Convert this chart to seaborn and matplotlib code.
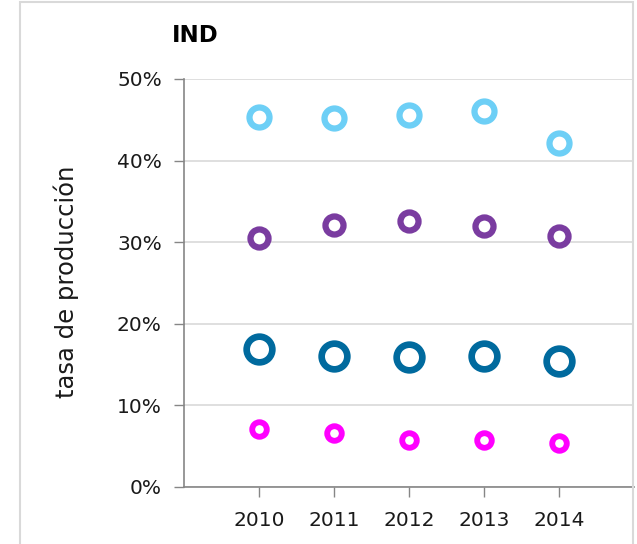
import matplotlib
matplotlib.use("Agg")
import matplotlib.pyplot as plt
import seaborn as sns
import pandas as pd
from matplotlib.patches import Rectangle
from matplotlib.ticker import FuncFormatter

years = [2010, 2011, 2012, 2013, 2014]
serie_celeste = [45.4, 45.2, 45.6, 46.1, 42.2]
serie_morada = [30.5, 32.1, 32.6, 32.0, 30.7]
serie_azul = [16.9, 16.1, 15.9, 16.0, 15.4]
serie_magenta = [7.1, 6.6, 5.8, 5.8, 5.4]
ytick_vals = [0, 10, 20, 30, 40, 50]

sns.set_theme(style="white")
plt.rcParams['font.family'] = ['DejaVu Sans']

fig = plt.figure(figsize=(6.37, 5.44), dpi=100)
ax = fig.add_axes([184/637, 57/544, 450/637, 408/544])

series = [
    (serie_celeste, "#6DCFF6", 14.4, 4.5),
    (serie_morada, "#7A3CA0", 13.0, 4.5),
    (serie_azul, "#006A9E", 18.5, 4.8),
    (serie_magenta, "#FF00FF", 10.5, 4.2),
]
for vals, col, ms, lw in series:
    df = pd.DataFrame({"year": years, "val": vals})
    sns.scatterplot(data=df, x="year", y="val", ax=ax, s=ms**2, marker="o",
                    facecolor="white", edgecolor=col, linewidth=lw, zorder=3, legend=False)

ax.set_xlim(2009, 2015)
ax.set_ylim(0, 50)
ax.set_xticks(years)
ax.set_xticklabels([str(y) for y in years], fontsize=14.5, color="#1a1a1a")
ax.set_yticks(ytick_vals)
ax.yaxis.set_major_formatter(FuncFormatter(lambda v, p: f"{int(v)}%"))
ax.tick_params(axis="y", labelsize=14.5, colors="#1a1a1a", length=7, width=1, color="#868686", pad=9, direction="out", left=True)
ax.tick_params(axis="x", length=7, width=1, color="#868686", pad=10, direction="out", bottom=True)
ax.yaxis.grid(True, color="#D9D9D9", linewidth=1.2)
ax.xaxis.grid(False)
ax.set_axisbelow(True)
for s in ["top", "right"]:
    ax.spines[s].set_visible(False)
for s in ["left", "bottom"]:
    ax.spines[s].set_color("#868686")
    ax.spines[s].set_linewidth(1.2)
ax.set_xlabel("")
ax.set_ylabel("")
fig.text(66/637, 1 - 282/544, "tasa de producción", rotation=90, fontsize=17.5,
         color="#1a1a1a", ha="center", va="center")

fig.text(172/637, 1 - 35/544, "IND", fontsize=16.5, fontweight="bold", ha="left", va="center", color="black")

border = Rectangle((19.5/637, -0.05), (633 - 19.5)/637, (544 - 5 + 30)/544,
                   transform=fig.transFigure, fill=False, edgecolor="#D9D9D9", linewidth=1.5, zorder=10)
fig.patches.append(border)

fig.savefig("out.png", dpi=100)
